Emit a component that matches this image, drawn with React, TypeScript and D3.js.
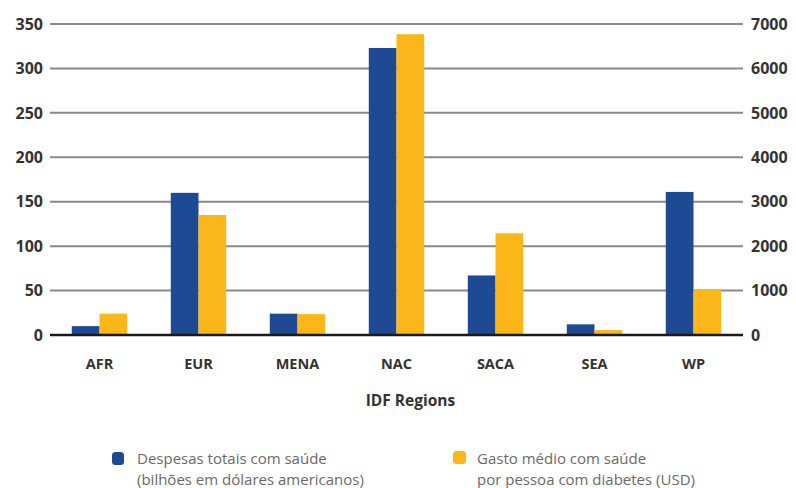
import React from "react";
import * as d3 from "d3";

const categories = ["AFR", "EUR", "MENA", "NAC", "SACA", "SEA", "WP"];
const totalSpend = [10, 160, 24, 323, 67, 12, 161];
const avgSpend = [480, 2700, 470, 6770, 2290, 110, 1030];
const leftTicks = [0, 50, 100, 150, 200, 250, 300, 350];
const rightTicks = [0, 1000, 2000, 3000, 4000, 5000, 6000, 7000];
const legendBlue = ["Despesas totais com saúde", "(bilhões em dólares americanos)"];
const legendYellow = ["Gasto médio com saúde", "por pessoa com diabetes (USD)"];
const xTitle = "IDF Regions";

const W = 796;
const H = 488;
const BLUE = "#1d4a92";
const YELLOW = "#fbb61a";
const FONT = "'Open Sans', Roboto, sans-serif";

export default function App() {
  const left = 50;
  const right = 743;
  const top = 24;
  const bottom = 335;

  const x = d3.scaleBand<string>().domain(categories).range([left, right]).paddingInner(0.44).paddingOuter(0.22);
  const yL = d3.scaleLinear().domain([0, 350]).range([bottom, top]);
  const yR = d3.scaleLinear().domain([0, 7000]).range([bottom, top]);
  const bw = x.bandwidth() / 2;

  return (
    <svg width={W} height={H} style={{ position: "absolute", left: 0, top: 0, background: "#fff" }} fontFamily={FONT}>
      {leftTicks.map((t) => (
        <g key={"g" + t}>
          {t !== 0 && (
            <line x1={left} x2={right} y1={yL(t)} y2={yL(t)} stroke="#8a8a8a" strokeWidth={2} />
          )}
          <text x={43} y={yL(t)} dy="0.36em" textAnchor="end" fontSize={16} fontWeight={700} fill="#333">
            {t}
          </text>
        </g>
      ))}
      {rightTicks.map((t) => (
        <text key={"r" + t} x={751} y={yR(t)} dy="0.36em" textAnchor="start" fontSize={16} fontWeight={700} fill="#333">
          {t}
        </text>
      ))}
      {categories.map((c, i) => (
        <g key={c}>
          <rect x={x(c)!} y={yL(totalSpend[i])} width={bw} height={bottom - yL(totalSpend[i])} fill={BLUE} />
          <rect x={x(c)! + bw} y={yR(avgSpend[i])} width={bw} height={bottom - yR(avgSpend[i])} fill={YELLOW} />
          <text x={x(c)! + bw} y={369} textAnchor="middle" fontSize={14.5} fontWeight={700} fill="#333">
            {c}
          </text>
        </g>
      ))}
      <line x1={left} x2={right} y1={bottom} y2={bottom} stroke="#1a1a1a" strokeWidth={2.5} />
      <text x={(left + right) / 2 + 14} y={406} textAnchor="middle" fontSize={15.5} fontWeight={700} fill="#333">
        {xTitle}
      </text>
      <rect x={112} y={452} width={12} height={13} rx={3.5} fill={BLUE} />
      {legendBlue.map((s, i) => (
        <text key={s} x={137} y={464 + i * 21} fontSize={15} fontWeight={400} fill="#6a6a6a">
          {s}
        </text>
      ))}
      <rect x={453} y={451} width={13} height={13} rx={3.5} fill={YELLOW} />
      {legendYellow.map((s, i) => (
        <text key={s} x={477} y={464 + i * 21} fontSize={15} fontWeight={400} fill="#6a6a6a">
          {s}
        </text>
      ))}
    </svg>
  );
}
